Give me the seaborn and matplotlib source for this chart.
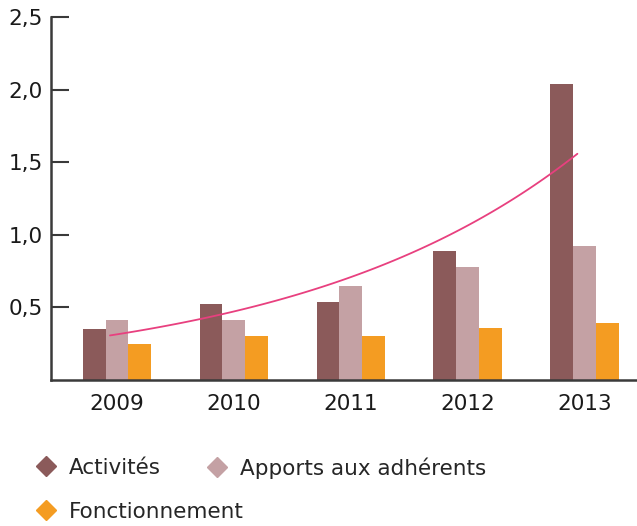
import numpy as np
import pandas as pd
import matplotlib
matplotlib.use('Agg')
import matplotlib.pyplot as plt
import seaborn as sns
from matplotlib.lines import Line2D

years = ['2009', '2010', '2011', '2012', '2013']
activites = [0.35, 0.52, 0.54, 0.89, 2.04]
apports = [0.41, 0.41, 0.65, 0.78, 0.92]
fonctionnement = [0.25, 0.30, 0.30, 0.36, 0.39]
series_names = ['Activités', 'Apports aux adhérents', 'Fonctionnement']
colors = ['#8b5a5a', '#c4a1a4', '#f49c22']
trend_color = '#e8407f'
y_ticks = [0.5, 1.0, 1.5, 2.0, 2.5]
y_labels = ['0,5', '1,0', '1,5', '2,0', '2,5']

df = pd.DataFrame({
    'year': years * 3,
    'value': activites + apports + fonctionnement,
    'serie': [s for s in series_names for _ in years],
})

sns.set_style('white')
plt.rcParams['font.family'] = ['DejaVu Sans']

fig = plt.figure(figsize=(6.37, 5.26), dpi=100)
ax = fig.add_axes([0.08, 0.2776, 0.92, 0.69])

sns.barplot(data=df, x='year', y='value', hue='serie', palette=colors,
            width=0.585, saturation=1, linewidth=0, ax=ax, legend=False)

# exponential trend line fitted on Activités
xs = np.arange(len(years))
slope, intercept = np.polyfit(xs, np.log(activites), 1)
xx = np.linspace(-0.06, 3.94, 100)
ax.plot(xx, np.exp(intercept + slope * xx), color=trend_color, lw=1.3)

ax.set_xlim(-0.565, 4.45)
ax.set_ylim(0, 2.5)
ax.set_yticks(y_ticks)
ax.set_yticklabels(y_labels)
ax.set_xlabel('')
ax.set_ylabel('')
for side in ['top', 'right']:
    ax.spines[side].set_visible(False)
for side in ['left', 'bottom']:
    ax.spines[side].set_color('#3a3a3a')
    ax.spines[side].set_linewidth(1.8)
ax.tick_params(axis='y', left=True, direction='in', length=13, width=1.5,
               color='#3a3a3a', labelsize=15.5, pad=6, labelcolor='#1a1a1a')
ax.tick_params(axis='x', bottom=False, length=0, labelsize=15.5, pad=10,
               labelcolor='#1a1a1a')

# legend entries placed one by one (marker centre x, y in pixels)
entries = [(series_names[0], colors[0], 47, 468),
           (series_names[1], colors[1], 218, 468),
           (series_names[2], colors[2], 47, 512)]
W, H = 637, 526
for name, col, mx, my in entries:
    h = Line2D([], [], marker='D', ls='', color=col, markersize=10)
    fig.legend([h], [name], loc='center left',
               bbox_to_anchor=((mx - 13.5) / W, 1 - my / H),
               frameon=False, fontsize=15.5, handletextpad=0.45,
               handlelength=1.2, borderaxespad=0, borderpad=0)

fig.savefig('out.png', dpi=100)
